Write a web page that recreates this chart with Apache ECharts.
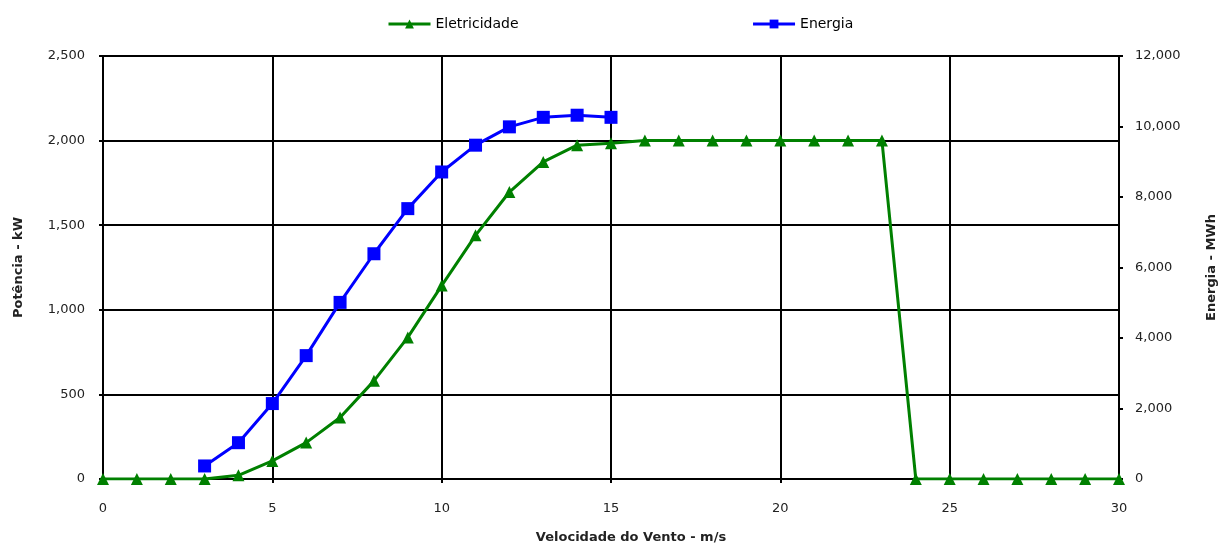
<!DOCTYPE html>
<html>
<head>
<meta charset="utf-8">
<script src="https://cdn.jsdelivr.net/npm/echarts@6/dist/echarts.min.js"></script>
<style>
    html, body { margin: 0; padding: 0; background: #fff; }
    #chart { width: 1228px; height: 546px; }
</style>
</head>
<body>
<div id="chart"></div>
<script>
// velocidade do vento (m/s)
var speed = [0, 1, 2, 3, 4, 5, 6, 7, 8, 9, 10, 11, 12, 13, 14, 15, 16, 17, 18, 19, 20, 21, 22, 23, 24, 25, 26, 27, 28, 29, 30]
// potência - kW
var eletricidade = [0, 0, 0, 0, 22, 107, 215, 363, 580, 837, 1143, 1440, 1696, 1874, 1973, 1985, 2000, 2000, 2000, 2000, 2000, 2000, 2000, 2000, 0, 0, 0, 0, 0, 0, 0]
// energia - MWh (3 a 15 m/s)
var speedEnergia = [3, 4, 5, 6, 7, 8, 9, 10, 11, 12, 13, 14, 15]
var energia = [370, 1030, 2140, 3500, 5010, 6390, 7670, 8710, 9470, 9990, 10260, 10320, 10260]

var eletData = []
for (let i = 0; i < speed.length; i++) {
    eletData.push([speed[i], eletricidade[i]])
}
var enerData = []
for (let i = 0; i < speedEnergia.length; i++) {
    enerData.push([speedEnergia[i], energia[i]])
}

var chart = echarts.init(document.getElementById('chart'));

var fmt = function (v) {
    return v.toString().replace(/\B(?=(\d{3})+(?!\d))/g, ',')
}
var font = 'DejaVu Sans, sans-serif'

var option = {
    animation: false,
    textStyle: { fontFamily: font },
    legend: {
        top: 12,
        left: 382,
        itemGap: 233,
        itemWidth: 42,
        itemHeight: 11,
        lineStyle: { width: 3 },
        textStyle: { fontSize: 14, color: '#000', fontFamily: font },
        data: ['Eletricidade', 'Energia']
    },
    grid: {
        left: 103,
        right: 109,
        top: 56,
        bottom: 67,
        outerBoundsMode: 'none'
    },
    xAxis: {
        type: 'value',
        min: 0,
        max: 30,
        interval: 5,
        name: 'Velocidade do Vento - m/s',
        nameLocation: 'middle',
        nameGap: 52,
        nameTextStyle: { fontWeight: 'bold', fontSize: 13, color: '#222', padding: [0, 0, 0, 40] },
        axisLine: { lineStyle: { color: '#000', width: 2 } },
        axisTick: { show: true, length: 4, lineStyle: { color: '#000', width: 2 } },
        axisLabel: { fontSize: 13, color: '#222', margin: 23 },
        splitLine: { show: true, lineStyle: { color: '#000', width: 2 } }
    },
    yAxis: [
        {
            type: 'value',
            min: 0,
            max: 2500,
            interval: 500,
            name: 'Potência - kW',
            nameLocation: 'middle',
            nameGap: 78,
            nameTextStyle: { fontWeight: 'bold', fontSize: 13, color: '#222' },
            axisLine: { show: true, lineStyle: { color: '#000', width: 2 } },
            axisTick: { show: true, length: 4, lineStyle: { color: '#000', width: 2 } },
            axisLabel: { fontSize: 13, color: '#222', margin: 18, formatter: fmt },
            splitLine: { show: true, lineStyle: { color: '#000', width: 2 } }
        },
        {
            type: 'value',
            min: 0,
            max: 12000,
            interval: 2000,
            position: 'right',
            name: 'Energia - MWh',
            nameLocation: 'middle',
            nameGap: 86,
            nameRotate: 90,
            nameTextStyle: { fontWeight: 'bold', fontSize: 13, color: '#222' },
            axisLine: { show: true, lineStyle: { color: '#000', width: 2 } },
            axisTick: { show: true, length: 4, lineStyle: { color: '#000', width: 2 } },
            axisLabel: { fontSize: 13, color: '#222', margin: 16, formatter: fmt },
            splitLine: { show: false }
        }
    ],
    series: [
        {
            name: 'Eletricidade',
            type: 'line',
            yAxisIndex: 0,
            data: eletData,
            symbol: 'triangle',
            symbolSize: 12,
            color: '#008000',
            lineStyle: { width: 3, color: '#008000' },
            itemStyle: { color: '#008000' },
            z: 3
        },
        {
            name: 'Energia',
            type: 'line',
            yAxisIndex: 1,
            data: enerData,
            symbol: 'rect',
            symbolSize: 13,
            color: '#0000ff',
            lineStyle: { width: 3, color: '#0000ff' },
            itemStyle: { color: '#0000ff' },
            z: 4
        }
    ]
};
chart.setOption(option);
</script>
</body>
</html>
